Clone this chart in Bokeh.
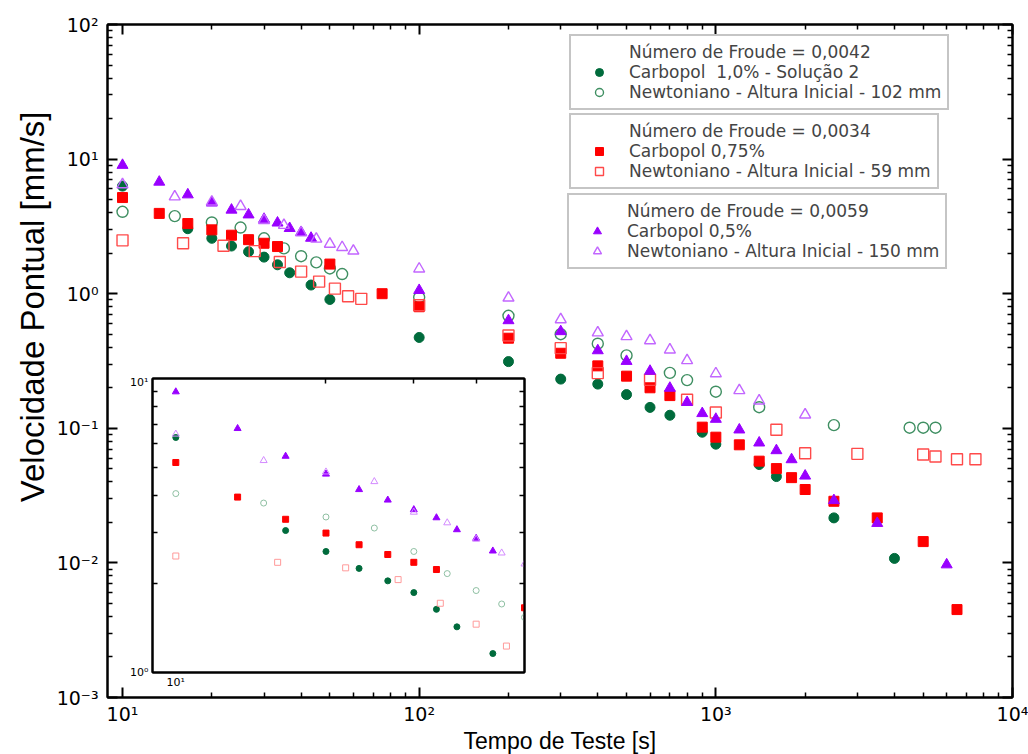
from bokeh.plotting import figure
from bokeh.models import (Range1d, LogAxis, FixedTicker, CustomJSTickFormatter,
                          Legend, LegendItem, Title)
from bokeh.layouts import column
from bokeh.embed import file_html
from bokeh.resources import INLINE

# ---------------- data ----------------
c10_t = [10, 16.6, 20, 23.3, 26.6, 30, 33.3, 36.6, 43.2, 50, 100, 200, 300, 400, 500,
         600, 700, 900, 1000, 1400, 1600, 2500, 4000]
c10_v = [6.3, 3.04, 2.58, 2.26, 2.05, 1.87, 1.64, 1.43, 1.16, 0.906, 0.473, 0.313, 0.232,
         0.213, 0.178, 0.143, 0.125, 0.0935, 0.0762, 0.0538, 0.0438, 0.0216, 0.0108]

n102_t = [10, 15, 20, 25, 30, 35, 40, 45, 50, 55, 100, 200, 300, 400, 500, 700, 800,
          1000, 1400, 2500, 4500, 5000, 5500]
n102_v = [4.06, 3.77, 3.38, 3.10, 2.58, 2.17, 1.90, 1.71, 1.54, 1.40, 0.94, 0.685, 0.50,
          0.425, 0.348, 0.258, 0.228, 0.187, 0.1435, 0.1055, 0.101, 0.101, 0.101]

c075_t = [10, 13.3, 16.6, 20, 23.3, 26.6, 30, 33.3, 50, 75, 100, 200, 300, 400, 500, 600,
          700, 900, 1000, 1200, 1400, 1600, 1800, 2000, 2500, 3500, 5000, 6500]
c075_v = [5.18, 3.95, 3.32, 2.98, 2.72, 2.52, 2.37, 2.24, 1.66, 1.0, 0.80, 0.467, 0.361,
          0.291, 0.244, 0.20, 0.175, 0.102, 0.0859, 0.0754, 0.057, 0.0502, 0.043, 0.0351,
          0.0287, 0.0216, 0.0144, 0.0045]

n59_t = [10, 16, 21.9, 27.9, 33.9, 40, 46, 52, 57.6, 63.8, 100, 200, 300, 400, 600, 800,
         1000, 1600, 2000, 3000, 5000, 5500, 6500, 7500]
n59_v = [2.49, 2.37, 2.27, 2.07, 1.72, 1.46, 1.23, 1.09, 0.958, 0.916, 0.82, 0.489, 0.394,
         0.257, 0.229, 0.163, 0.131, 0.0975, 0.0653, 0.0646, 0.0638, 0.0617, 0.0589, 0.0589]

c05_t = [10, 13.3, 16.6, 20, 23.3, 26.6, 30, 33.3, 36.6, 40, 43.2, 100, 200, 300, 400, 500,
         600, 700, 800, 900, 1000, 1200, 1400, 1600, 1800, 2000, 2500, 3500, 6000]
c05_v = [9.01, 6.76, 5.44, 4.73, 4.19, 3.86, 3.58, 3.36, 3.06, 2.86, 2.59, 1.06, 0.632,
         0.524, 0.378, 0.315, 0.266, 0.199, 0.156, 0.129, 0.117, 0.0975, 0.078, 0.0684,
         0.0586, 0.0443, 0.0291, 0.0197, 0.0097]

n150_t = [10, 15, 20, 25, 30, 35, 40, 45, 50, 55, 60, 100, 200, 300, 400, 500, 600, 700,
          800, 1000, 1200, 1400, 2000]
n150_v = [6.47, 5.26, 4.81, 4.46, 3.51, 3.23, 2.84, 2.55, 2.34, 2.21, 2.08, 1.53, 0.931,
          0.643, 0.513, 0.481, 0.449, 0.383, 0.319, 0.255, 0.191, 0.16, 0.126]

x_major = [10, 100, 1000, 10000]
y_major = [1e-3, 1e-2, 1e-1, 1, 10, 100]

legend_titles = ["Número de Froude = 0,0042", "Número de Froude = 0,0034",
                 "Número de Froude = 0,0059"]
legend_labels = [["Carbopol  1,0% - Solução 2", "Newtoniano - Altura Inicial - 102 mm"],
                 ["Carbopol 0,75%", "Newtoniano - Altura Inicial - 59 mm"],
                 ["Carbopol 0,5%", "Newtoniano - Altura Inicial - 150 mm"]]

# ---------------- styles ----------------
G_F, G_O = "#006b3c", "#3f8f62"
R_F, R_O = "#ff0000", "#ff4a4a"
P_F, P_O = "#9900ff", "#c266ff"
FONT = "Liberation Sans"
WFONT = "DejaVu Sans"

SUP = CustomJSTickFormatter(code="""
const s = {'-':'\\u207b','0':'\\u2070','1':'\\u00b9','2':'\\u00b2','3':'\\u00b3','4':'\\u2074','5':'\\u2075'};
const e = Math.round(Math.log10(tick));
return '10' + String(e).split('').map(c => s[c]).join('');
""")
BLANK = CustomJSTickFormatter(code="return '';")


def minors(majors):
    out = []
    for m in majors[:-1]:
        out += [k * m for k in range(2, 10)]
    return out


def style_axis(ax, majors, labels=True, maj=10, mnr=5, fs="19px", lw=2, font=WFONT):
    ax.ticker = FixedTicker(ticks=majors, minor_ticks=minors(majors))
    ax.formatter = SUP if labels else BLANK
    ax.major_tick_in = maj
    ax.major_tick_out = 0
    ax.minor_tick_in = mnr
    ax.minor_tick_out = 0
    ax.major_tick_line_width = lw
    ax.minor_tick_line_width = 1.5
    ax.axis_line_width = lw
    ax.major_label_text_font = font
    ax.major_label_text_font_size = fs if labels else "0px"
    ax.major_label_text_color = "black"


# ---------------- main figure ----------------
p = figure(frame_width=905, frame_height=673, x_axis_type="log", y_axis_type="log",
           x_range=Range1d(8.9, 1e4), y_range=Range1d(1e-3, 1e2),
           output_backend="svg", toolbar_location=None,
           min_border_left=107, min_border_right=16, min_border_top=24, min_border_bottom=56,
           outline_line_color="black", outline_line_width=2)
p.xgrid.visible = False
p.ygrid.visible = False

style_axis(p.xaxis[0], x_major)
style_axis(p.yaxis[0], y_major)
p.xaxis.major_label_standoff = 5
p.yaxis.major_label_standoff = 9
p.xaxis.axis_label = "Tempo de Teste [s]"
p.xaxis.axis_label_text_font = FONT
p.xaxis.axis_label_text_font_style = "normal"
p.xaxis.axis_label_text_color = "black"
p.xaxis.axis_label_text_font_size = "23px"
p.xaxis.axis_label_standoff = 0

# y-axis title, a little above the frame centre as in the picture
p.add_layout(Title(text="Velocidade Pontual [mm/s]", align="right", offset=87,
                   text_font=FONT, text_font_size="33px", text_font_style="normal",
                   text_color="black", standoff=6), "left")

top_ax = LogAxis()
style_axis(top_ax, x_major, labels=False)
right_ax = LogAxis()
style_axis(right_ax, y_major, labels=False)
p.add_layout(top_ax, "above")
p.add_layout(right_ax, "right")

S = 10
r1 = p.scatter(c10_t, c10_v, marker="circle", size=S, fill_color=G_F, line_color=G_F)
r2 = p.scatter(n102_t, n102_v, marker="circle", size=S + 1, fill_color=None, line_color=G_O, line_width=1.4)
r3 = p.scatter(c075_t, c075_v, marker="square", size=S, fill_color=R_F, line_color=R_F)
r4 = p.scatter(n59_t, n59_v, marker="square", size=S + 1, fill_color=None, line_color=R_O, line_width=1.4)
r5 = p.scatter(c05_t, c05_v, marker="triangle", size=S + 1, fill_color=P_F, line_color=P_F)
r6 = p.scatter(n150_t, n150_v, marker="triangle", size=S + 1, fill_color=None, line_color=P_O, line_width=1.4)
# invisible renderer that only carries the legend box headings
r_head = p.scatter([], [], marker="circle", size=1, fill_alpha=0, line_alpha=0)

pairs = [(r1, r2), (r3, r4), (r5, r6)]
locs = [(462, 587), (462, 508), (460, 428)]
for (ra, rb), title, labs, loc in zip(pairs, legend_titles, legend_labels, locs):
    lg = Legend(items=[LegendItem(label=title, renderers=[r_head]),
                       LegendItem(label=labs[0], renderers=[ra]),
                       LegendItem(label=labs[1], renderers=[rb])],
                location=loc, orientation="vertical")
    lg.label_text_font = WFONT
    lg.label_text_font_size = "17px"
    lg.label_standoff = 8
    lg.glyph_width = 44
    lg.glyph_height = 20
    lg.label_height = 20
    lg.spacing = 0
    lg.padding = 6
    lg.margin = 0
    lg.border_line_color = "#8c8c8c"
    lg.border_line_width = 2
    lg.background_fill_color = "white"
    lg.background_fill_alpha = 1
    p.add_layout(lg)

# ---------------- inset ----------------
ins = figure(width=495, height=321, x_axis_type="log", y_axis_type="log",
             x_range=Range1d(8.98, 50), y_range=Range1d(1, 10),
             output_backend="svg", toolbar_location=None,
             min_border_left=107, min_border_right=16, min_border_top=3, min_border_bottom=24,
             background_fill_color="white", border_fill_alpha=0,
             outline_line_color="black", outline_line_width=2)
ins.xgrid.visible = False
ins.ygrid.visible = False
style_axis(ins.xaxis[0], [10, 100], maj=0, mnr=0, fs="11px")
ins.xaxis[0].ticker = FixedTicker(ticks=[10], minor_ticks=[])
style_axis(ins.yaxis[0], [1, 10], maj=0, mnr=5, fs="11px")
ins.xaxis.major_label_standoff = 3
ins.yaxis.major_label_standoff = 4
it = LogAxis()
style_axis(it, [10, 100], labels=False, maj=0, mnr=5)
it.ticker = FixedTicker(ticks=[10], minor_ticks=[20, 30, 40])
ir = LogAxis()
style_axis(ir, [1, 10], labels=False, maj=0, mnr=5)
ins.add_layout(it, "above")
ins.add_layout(ir, "right")

s = 6
ins.scatter(c10_t, c10_v, marker="circle", size=s, fill_color=G_F, line_color=G_F)
ins.scatter(n102_t, n102_v, marker="circle", size=s, fill_color=None, line_color="#8fc0a3", line_width=1)
ins.scatter(c075_t, c075_v, marker="square", size=s, fill_color=R_F, line_color=R_F)
ins.scatter(n59_t, n59_v, marker="square", size=s, fill_color=None, line_color="#ff9a9a", line_width=1)
ins.scatter(c05_t, c05_v, marker="triangle", size=s + 1, fill_color=P_F, line_color=P_F)
ins.scatter(n150_t, n150_v, marker="triangle", size=s + 1, fill_color=None, line_color="#d38aff", line_width=1)

ins.margin = (-(754 - 373), 0, 0, 45)

layout = column(p, ins, spacing=0)
open("out.html", "w").write(file_html(layout, INLINE))
